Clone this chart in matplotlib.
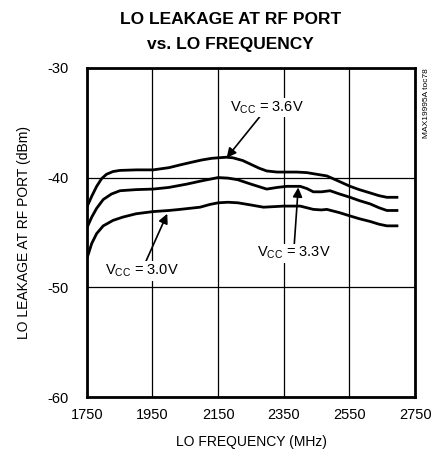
import matplotlib
matplotlib.use("Agg")
import matplotlib.pyplot as plt

# LO leakage at RF port (dBm) vs LO frequency (MHz)
freq_36 = [1750, 1765, 1780, 1795, 1810, 1830, 1851, 1900, 1952, 2000, 2034, 2070, 2100, 2130,
           2150, 2175, 2195, 2225, 2250, 2275, 2298, 2330, 2359, 2390, 2420, 2450, 2481, 2515,
           2552, 2580, 2613, 2640, 2664, 2699]
leak_36 = [-42.7, -41.7, -40.8, -40.1, -39.7, -39.45, -39.35, -39.3, -39.3, -39.1, -38.85, -38.6,
           -38.4, -38.25, -38.2, -38.15, -38.2, -38.45, -38.8, -39.15, -39.4, -39.5, -39.5, -39.5,
           -39.55, -39.7, -39.85, -40.3, -40.8, -41.1, -41.4, -41.65, -41.8, -41.8]

freq_33 = [1750, 1765, 1780, 1800, 1825, 1851, 1900, 1952, 2000, 2054, 2100, 2150, 2180, 2210,
           2250, 2298, 2330, 2359, 2400, 2420, 2440, 2465, 2491, 2520, 2552, 2580, 2613, 2640,
           2664, 2699]
leak_33 = [-44.6, -43.6, -42.8, -42.0, -41.5, -41.2, -41.1, -41.05, -40.9, -40.6, -40.3, -40.0,
           -40.05, -40.2, -40.6, -41.05, -40.9, -40.8, -40.8, -41.0, -41.3, -41.3, -41.2, -41.5,
           -41.8, -42.1, -42.4, -42.75, -43.0, -43.0]

freq_30 = [1750, 1765, 1780, 1800, 1830, 1860, 1900, 1952, 2000, 2034, 2095, 2125, 2150, 2180,
           2210, 2250, 2288, 2320, 2349, 2400, 2440, 2465, 2481, 2520, 2552, 2580, 2613, 2640,
           2664, 2699]
leak_30 = [-47.4, -46.0, -45.1, -44.4, -43.9, -43.6, -43.3, -43.1, -43.0, -42.9, -42.7, -42.45,
           -42.3, -42.25, -42.3, -42.5, -42.7, -42.65, -42.6, -42.6, -42.9, -42.95, -42.9, -43.2,
           -43.5, -43.75, -44.0, -44.25, -44.4, -44.4]

xticks = [1750, 1950, 2150, 2350, 2550, 2750]
yticks = [-60, -50, -40, -30]

plt.rcParams['font.family'] = ['Liberation Sans', 'DejaVu Sans']
plt.rcParams['mathtext.fontset'] = 'custom'
plt.rcParams['mathtext.rm'] = 'Liberation Sans'
plt.rcParams['mathtext.it'] = 'Liberation Sans'

fig = plt.figure(figsize=(4.43, 4.58), dpi=100)
ax = fig.add_axes([0.196, 0.133, 0.741, 0.719])

for f, v in [(freq_36, leak_36), (freq_33, leak_33), (freq_30, leak_30)]:
    ax.plot(f, v, color='black', lw=2.0, solid_capstyle='butt', solid_joinstyle='round')

ax.set_xlim(1750, 2750)
ax.set_ylim(-60, -30)
ax.set_xticks(xticks)
ax.set_yticks(yticks)
ax.set_xticklabels([str(t) for t in xticks])
ax.set_yticklabels(['-60', '-50', '-40', '-30'])
ax.tick_params(length=0, labelsize=10.5)
ax.tick_params(axis='x', pad=8)
ax.tick_params(axis='y', pad=13)
ax.grid(True, color='black', lw=0.9)
for s in ax.spines.values():
    s.set_linewidth(2.0)

ax.set_xlabel('LO FREQUENCY (MHz)', fontsize=10, labelpad=9)
ax.set_ylabel('LO LEAKAGE AT RF PORT (dBm)', fontsize=10, labelpad=12)

fig.text(0.52, 0.958, 'LO LEAKAGE AT RF PORT', ha='center', va='center',
         fontsize=12.5, fontweight='bold')
fig.text(0.52, 0.903, 'vs. LO FREQUENCY', ha='center', va='center',
         fontsize=12.5, fontweight='bold')
fig.text(0.962, 0.852, 'MAX19995A toc78', rotation=90, ha='center', va='top',
         fontsize=6)

arrow = dict(arrowstyle='-|>', color='black', lw=1.2, mutation_scale=14, shrinkA=0, shrinkB=0)
ax.annotate(r'V$_{\mathrm{CC}}$ = 3.6V', xy=(2176, -38.2), xytext=(2300, -33.6),
            ha='center', va='center', fontsize=10.5, arrowprops=arrow,
            bbox=dict(fc='white', ec='none', pad=1))
ax.annotate(r'V$_{\mathrm{CC}}$ = 3.3V', xy=(2394, -40.9), xytext=(2380, -46.9),
            ha='center', va='center', fontsize=10.5, arrowprops=arrow,
            bbox=dict(fc='white', ec='none', pad=1))
ax.annotate(r'V$_{\mathrm{CC}}$ = 3.0V', xy=(1995, -43.3), xytext=(1917, -48.5),
            ha='center', va='center', fontsize=10.5, arrowprops=arrow,
            bbox=dict(fc='white', ec='none', pad=1))

fig.savefig('out.png', dpi=100)
